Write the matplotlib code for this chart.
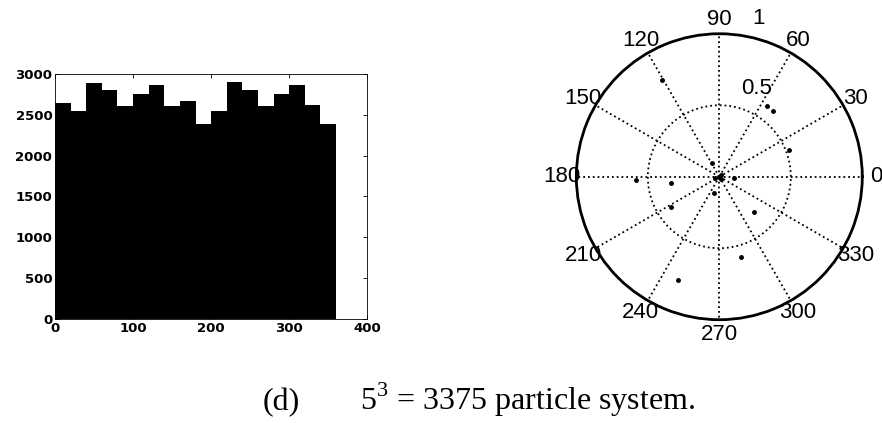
# Angle histogram and polar scatter, 5^3 particle system
import numpy as np
import matplotlib.pyplot as plt

# histogram of angles (deg), 20-degree bins over 0..360
bin_left = [0, 20, 40, 60, 80, 100, 120, 140, 160, 180,
            200, 220, 240, 260, 280, 300, 320, 340]
counts = [2650, 2550, 2895, 2800, 2610, 2760, 2865, 2610, 2670, 2390,
          2550, 2900, 2800, 2610, 2760, 2865, 2615, 2390]
x_ticks = [0, 100, 200, 300, 400]
y_ticks = [0, 500, 1000, 1500, 2000, 2500, 3000]

# polar points: angle (deg) and radius
pt_theta = [0, 45, 200, 300, 117.8, -6.5, 251.6, 187.9, 211.8, -45,
            56.2, 50.6, 21, 182.5, 120.6, -75, -112, -30]
pt_r = [0.0, 0.02, 0.03, 0.02, 0.105, 0.105, 0.118, 0.34, 0.40, 0.346,
        0.595, 0.595, 0.52, 0.58, 0.79, 0.58, 0.78, 0.99]
angle_labels = list(range(0, 360, 30))

fig = plt.figure(figsize=(8.82, 4.23), dpi=100)

# --- histogram ---
ax = fig.add_axes([0.0624, 0.246, 0.354, 0.579])
ax.bar(bin_left, counts, width=20, align='edge', color='k', linewidth=0)
ax.set_xlim(0, 400)
ax.set_ylim(0, 3000)
ax.set_xticks(x_ticks)
ax.set_yticks(y_ticks)
ax.tick_params(direction='in', top=True, right=True, length=3, width=0.6,
               labelsize=9.5, pad=2)
for lab in ax.get_xticklabels() + ax.get_yticklabels():
    lab.set_fontweight('bold')
    lab.set_family('DejaVu Sans')
for s in ax.spines.values():
    s.set_linewidth(0.6)

# --- polar ---
pax = fig.add_axes([0.6534, 0.2442, 0.3243, 0.676], projection='polar')
pax.set_ylim(0, 1)
pax.set_thetagrids(angle_labels, labels=[])
pax.set_rgrids([0.5], labels=[])
pax.grid(True, color='k', linestyle=':', linewidth=1.3)
pax.spines['polar'].set_linewidth(2)
pax.plot(np.deg2rad(pt_theta), pt_r, '.', color='k', markersize=5)

for a in angle_labels:
    pax.text(np.deg2rad(a), 1.1, str(a), ha='center', va='center',
             fontsize=16, family='Liberation Sans', clip_on=False)
pax.text(np.deg2rad(67), 0.67, '0.5', ha='center', va='center',
         fontsize=16, family='Liberation Sans')
pax.text(np.deg2rad(76), 1.14, '1', ha='center', va='center',
         fontsize=16, family='Liberation Sans', clip_on=False)

# caption
fig.text(0.298, 0.031, '(d)', fontsize=23, family='Liberation Serif',
         ha='left', va='baseline')
fig.text(0.408, 0.031, r'5$^{\mathregular{3}}$ = 3375 particle system.',
         fontsize=23, family='Liberation Serif', ha='left', va='baseline')

fig.savefig('out.png', dpi=100)
